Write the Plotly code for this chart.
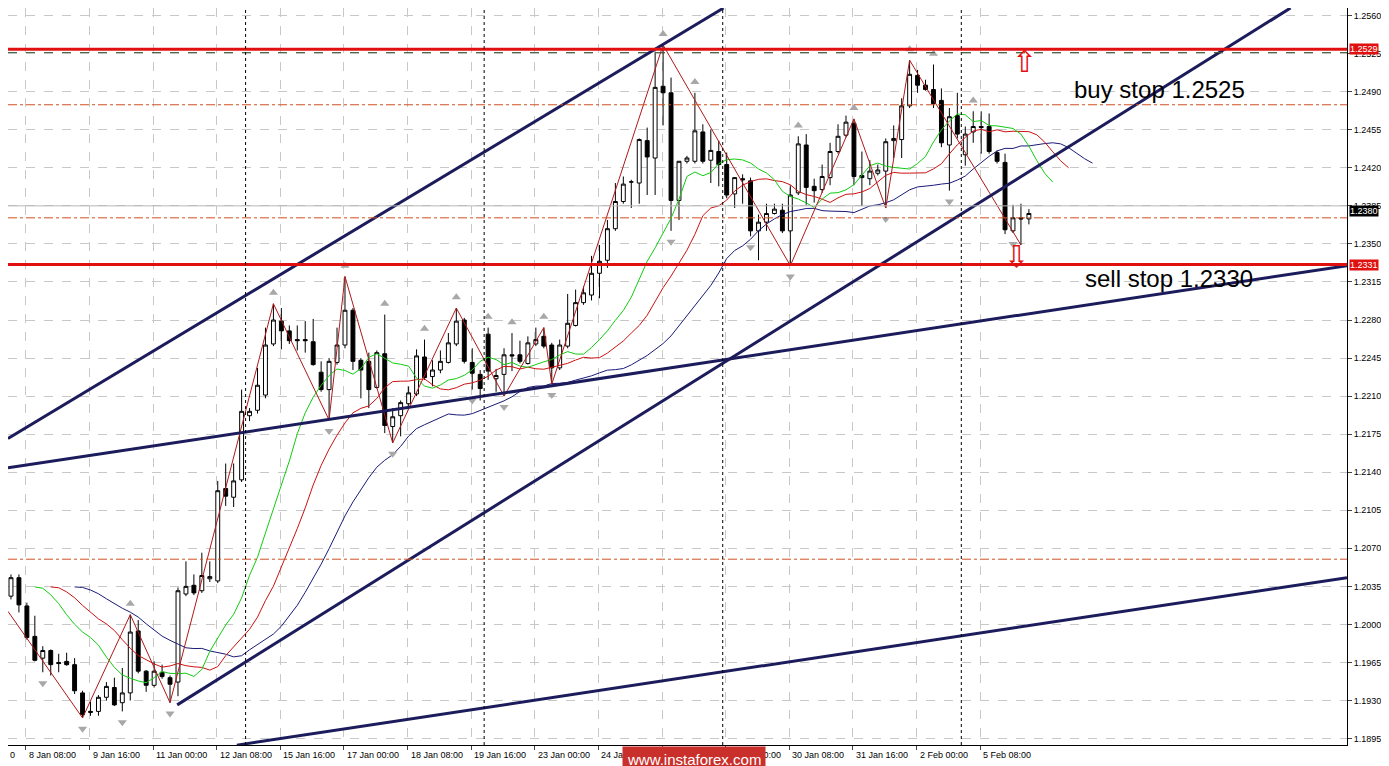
import plotly.graph_objects as go
import numpy as np

opens = [1.2026,1.2043,1.2017,1.1989,1.1969,1.1976,1.1965,1.1966,1.1963,1.1937,1.1919,1.1920,1.1933,1.1942,1.1928,1.1937,1.1994,1.1957,1.1944,1.1956,1.1951,1.1947,1.2028,1.2036,1.2031,1.2042,1.2040,1.2125,1.2117,1.2133,
         1.2192,1.2197,1.2211,1.2258,1.2279,1.2270,1.2262,1.2262,1.2260,1.2232,1.2216,1.2241,1.2257,1.2289,1.2243,1.2242,1.2218,1.2249,1.2182,1.2192,1.2203,1.2212,1.2246,1.2228,1.2234,1.2241,1.2258,1.2280,1.2241,1.2230,
         1.2267,1.2226,1.2230,1.2248,1.2248,1.2240,1.2258,1.2265,1.2257,1.2236,1.2256,1.2275,1.2296,1.2303,1.2323,1.2335,1.2364,1.2389,1.2407,1.2406,1.2445,1.2429,1.2495,1.2489,1.2390,1.2426,1.2426,1.2453,1.2427,1.2435,
         1.2423,1.2396,1.2410,1.2408,1.2362,1.2370,1.2378,1.2381,1.2362,1.2397,1.2441,1.2403,1.2400,1.2411,1.2435,1.2450,1.2461,1.2413,1.2410,1.2415,1.2417,1.2445,1.2446,1.2477,1.2505,1.2496,1.2492,1.2482,1.2441,1.2468,
         1.2432,1.2453,1.2458,1.2458,1.2434,1.2425,1.2362,1.2374,1.2373]
highs = [1.2046,1.2046,1.2020,1.2008,1.1980,1.1977,1.1973,1.1974,1.1969,1.1939,1.1929,1.1935,1.1947,1.1951,1.1960,1.2009,1.2004,1.1958,1.1966,1.1963,1.1953,1.2034,1.2058,1.2046,1.2066,1.2058,1.2132,1.2148,1.2148,1.2216,
         1.2199,1.2236,1.2273,1.2295,1.2291,1.2275,1.2275,1.2279,1.2281,1.2242,1.2245,1.2273,1.2320,1.2291,1.2245,1.2250,1.2252,1.2285,1.2199,1.2206,1.2219,1.2253,1.2262,1.2243,1.2252,1.2268,1.2291,1.2282,1.2254,1.2234,
         1.2273,1.2235,1.2254,1.2268,1.2261,1.2265,1.2273,1.2273,1.2259,1.2262,1.2304,1.2308,1.2311,1.2339,1.2349,1.2372,1.2406,1.2412,1.2409,1.2447,1.2457,1.2527,1.2533,1.2503,1.2426,1.2431,1.2489,1.2460,1.2455,1.2445,
         1.2434,1.2411,1.2414,1.2411,1.2377,1.2387,1.2387,1.2387,1.2404,1.2449,1.2451,1.2410,1.2423,1.2443,1.2460,1.2468,1.2465,1.2435,1.2427,1.2423,1.2447,1.2459,1.2484,1.2519,1.2510,1.2501,1.2515,1.2493,1.2475,1.2489,
         1.2458,1.2472,1.2472,1.2470,1.2436,1.2433,1.2386,1.2387,1.2382]
lows = [1.2023,1.2011,1.1986,1.1966,1.1956,1.1953,1.1956,1.1962,1.1936,1.1914,1.1916,1.1916,1.1930,1.1925,1.1920,1.1930,1.1955,1.1938,1.1942,1.1950,1.1928,1.1934,1.2026,1.2027,1.2029,1.2039,1.2038,1.2109,1.2108,1.2131,
        1.2187,1.2194,1.2208,1.2256,1.2253,1.2258,1.2252,1.2250,1.2238,1.2214,1.2188,1.2239,1.2254,1.2234,1.2208,1.2199,1.2217,1.2176,1.2167,1.2173,1.2201,1.2210,1.2225,1.2219,1.2231,1.2240,1.2256,1.2240,1.2216,1.2206,
        1.2225,1.2214,1.2210,1.2233,1.2240,1.2239,1.2256,1.2254,1.2221,1.2234,1.2254,1.2274,1.2294,1.2298,1.2300,1.2328,1.2362,1.2387,1.2383,1.2387,1.2395,1.2395,1.2459,1.2362,1.2372,1.2424,1.2424,1.2424,1.2406,1.2403,
        1.2392,1.2383,1.2387,1.2357,1.2335,1.2362,1.2377,1.2360,1.2330,1.2395,1.2386,1.2388,1.2397,1.2404,1.2433,1.2448,1.2404,1.2385,1.2404,1.2413,1.2383,1.2429,1.2429,1.2475,1.2489,1.2491,1.2475,1.2439,1.2399,1.2447,
        1.2422,1.2443,1.2433,1.2433,1.2424,1.2359,1.2360,1.2349,1.2368]
closes = [1.2043,1.2018,1.1988,1.1967,1.1976,1.1963,1.1964,1.1963,1.1939,1.1917,1.1920,1.1933,1.1943,1.1926,1.1937,1.1993,1.1957,1.1944,1.1957,1.1952,1.1945,1.2031,1.2035,1.2029,1.2045,1.2044,1.2123,1.2118,1.2132,1.2196,
          1.2196,1.2220,1.2257,1.2280,1.2270,1.2261,1.2261,1.2261,1.2239,1.2216,1.2242,1.2257,1.2289,1.2242,1.2234,1.2216,1.2250,1.2183,1.2191,1.2204,1.2213,1.2247,1.2227,1.2234,1.2242,1.2259,1.2279,1.2242,1.2231,1.2217,
          1.2233,1.2229,1.2248,1.2247,1.2242,1.2259,1.2262,1.2256,1.2236,1.2257,1.2277,1.2296,1.2305,1.2323,1.2334,1.2364,1.2389,1.2405,1.2407,1.2446,1.2430,1.2494,1.2489,1.2390,1.2426,1.2429,1.2454,1.2426,1.2436,1.2423,
          1.2395,1.2411,1.2409,1.2362,1.2370,1.2378,1.2382,1.2362,1.2395,1.2442,1.2402,1.2399,1.2412,1.2435,1.2449,1.2462,1.2412,1.2411,1.2417,1.2418,1.2444,1.2447,1.2477,1.2506,1.2496,1.2492,1.2479,1.2443,1.2467,1.2451,
          1.2451,1.2458,1.2457,1.2435,1.2426,1.2363,1.2374,1.2373,1.2378]

tick_bars = [1.875 + 8 * k for k in range(16)]
tick_labels = ["8 Jan 08:00", "9 Jan 16:00", "11 Jan 00:00", "12 Jan 08:00", "15 Jan 16:00", "17 Jan 00:00",
               "18 Jan 08:00", "19 Jan 16:00", "23 Jan 00:00", "24 Jan 08:00", "25 Jan 16:00", "29 Jan 00:00",
               "30 Jan 08:00", "31 Jan 16:00", "2 Feb 00:00", "5 Feb 08:00"]
price_ticks = [1.1895, 1.1930, 1.1965, 1.2000, 1.2035, 1.2070, 1.2105, 1.2140, 1.2175, 1.2210, 1.2245, 1.2280,
               1.2315, 1.2350, 1.2385, 1.2420, 1.2455, 1.2490, 1.2525, 1.2560]

zz_start = (-0.375, 1.2012)
zz_high_bars = [15, 33, 42, 56, 67, 82, 106, 113]
zz_low_bars = [9, 20, 40, 48, 62, 68, 98, 110, 127]
frac_up = [15, 33, 42, 47, 52, 56, 60, 63, 67, 82, 86, 99, 106, 113, 116, 121]
frac_dn = [4, 9, 14, 20, 40, 48, 58, 62, 68, 83, 93, 98, 110, 118, 126]

trend_lines = [((-0.375, 1.2171), (89.6, 1.2567)),
               ((20.9, 1.1926), (160.9, 1.2567)),
               ((-0.375, 1.2144), (168.0, 1.2330)),
               ((28.4, 1.1889), (168.0, 1.2043))]
red_levels = [1.2529, 1.2331]
orange_levels = [1.2478, 1.2374, 1.2060]
current_price = 1.2380

X0, X1 = -0.375, 168.0
Y0, Y1 = 1.18891, 1.2567

n = len(closes)
xs = list(range(n))
median = (np.array(highs) + np.array(lows)) / 2

def smma(vals, period):
    out = [vals[0]]
    for v in vals[1:]:
        out.append((out[-1] * (period - 1) + v) / period)
    return np.array(out)

fig = go.Figure()
for per, shift, col in [(13, 8, "#1a1a7a"), (8, 5, "#cc1111"), (5, 3, "#11cc11")]:
    s = smma(median, per)
    fig.add_trace(go.Scatter(x=[i + shift for i in xs], y=s, mode="lines",
                             line=dict(color=col, width=1)))

zz = sorted([(b, highs[b]) for b in zz_high_bars] + [(b, lows[b]) for b in zz_low_bars])
zz = [zz_start] + zz
fig.add_trace(go.Scatter(x=[p[0] for p in zz], y=[p[1] for p in zz], mode="lines",
                         line=dict(color="#b01818", width=1)))

fig.add_trace(go.Candlestick(x=xs, open=opens, high=highs, low=lows, close=closes,
                             increasing=dict(line=dict(color="black", width=1), fillcolor="white"),
                             decreasing=dict(line=dict(color="black", width=1), fillcolor="black"),
                             whiskerwidth=0, hoverinfo="skip"))

fig.add_trace(go.Scatter(x=frac_up, y=[highs[b] + 0.0010 for b in frac_up], mode="markers",
                         marker=dict(symbol="triangle-up", size=8, color="#a8a8a8")))
fig.add_trace(go.Scatter(x=frac_dn, y=[lows[b] - 0.0010 for b in frac_dn], mode="markers",
                         marker=dict(symbol="triangle-down", size=8, color="#a8a8a8")))

for (a, b) in trend_lines:
    fig.add_trace(go.Scatter(x=[a[0], b[0]], y=[a[1], b[1]], mode="lines",
                             line=dict(color="#1c1c5c", width=3)))

shapes = []
for lv in orange_levels:
    shapes.append(dict(type="line", xref="paper", x0=0, x1=1, y0=lv, y1=lv,
                       line=dict(color="#d05020", width=1, dash="dashdot")))
shapes.append(dict(type="line", xref="paper", x0=0, x1=1, y0=current_price + 0.0005, y1=current_price + 0.0005,
                   line=dict(color="#b8b8b8", width=1)))
shapes.append(dict(type="line", xref="paper", x0=0, x1=1, y0=1.2526, y1=1.2526,
                   line=dict(color="#406040", width=1, dash="dash")))
for lv in red_levels:
    shapes.append(dict(type="line", xref="paper", x0=0, x1=1, y0=lv, y1=lv,
                       line=dict(color="#e01010", width=3)))
for t in [29.5, 59.5, 89.5, 119.5]:
    shapes.append(dict(type="line", yref="paper", x0=t, x1=t, y0=0, y1=1,
                       line=dict(color="black", width=1, dash="dot")))

annotations = []
for tb, tl in zip(tick_bars, tick_labels):
    annotations.append(dict(x=tb, y=0, yref="paper", text=tl, showarrow=False, xanchor="left",
                            yanchor="top", yshift=-3, xshift=1,
                            font=dict(size=9, color="black", family="Liberation Sans")))
annotations.append(dict(x=-0.375, y=0, yref="paper", text="0", showarrow=False, xanchor="left",
                        yanchor="top", yshift=-3, font=dict(size=9, color="black", family="Liberation Sans")))
for lv, bg in [(1.2529, "#e01010"), (1.2331, "#e01010"), (current_price, "black")]:
    annotations.append(dict(x=1, xref="paper", y=lv, text=f"{lv:.4f}", showarrow=False, xanchor="left",
                            xshift=2, bgcolor=bg, font=dict(size=9, color="white"), borderpad=0))
annotations.append(dict(x=133.4, y=1.2492, text="buy stop 1.2525", showarrow=False, xanchor="left",
                        font=dict(size=24, color="black", family="Liberation Sans")))
annotations.append(dict(x=134.8, y=1.2318, text="sell stop 1.2330", showarrow=False, xanchor="left",
                        font=dict(size=24, color="black", family="Liberation Sans")))
annotations.append(dict(x=127.4, y=1.2518, text="⇧", showarrow=False,
                        font=dict(size=30, color="#e01010", family="DejaVu Sans")))
annotations.append(dict(x=126.4, y=1.2338, text="⇩", showarrow=False,
                        font=dict(size=30, color="#e01010", family="DejaVu Sans")))
annotations.append(dict(x=0.512, xref="paper", y=0, yref="paper", yanchor="top", yshift=-1,
                        text="www.instaforex.com", showarrow=False, bgcolor="#c9302c",
                        font=dict(size=15, color="white", family="Liberation Sans"), borderpad=4))

fig.update_layout(width=1389, height=766, margin=dict(l=0, r=50, t=0, b=29),
                  plot_bgcolor="white", paper_bgcolor="white", showlegend=False,
                  font=dict(family="Liberation Sans", color="black"),
                  shapes=shapes, annotations=annotations)
fig.update_xaxes(range=[X0, X1], tickvals=tick_bars, ticktext=[""] * len(tick_bars), ticks="outside",
                 ticklen=4, showgrid=True, gridcolor="#c8c8c8", griddash="dash",
                 rangeslider_visible=False, showline=True, linecolor="black", zeroline=False)
fig.update_yaxes(range=[Y0, Y1], side="right", tickvals=price_ticks, ticktext=[f"{p:.4f}" for p in price_ticks],
                 tickfont=dict(size=9), ticks="outside", ticklen=4, showgrid=True, gridcolor="#c8c8c8",
                 griddash="dash", showline=True, linecolor="black", zeroline=False)
fig.update_traces(selector=dict(type="scatter"), hoverinfo="skip")
fig.write_html("out.html")
